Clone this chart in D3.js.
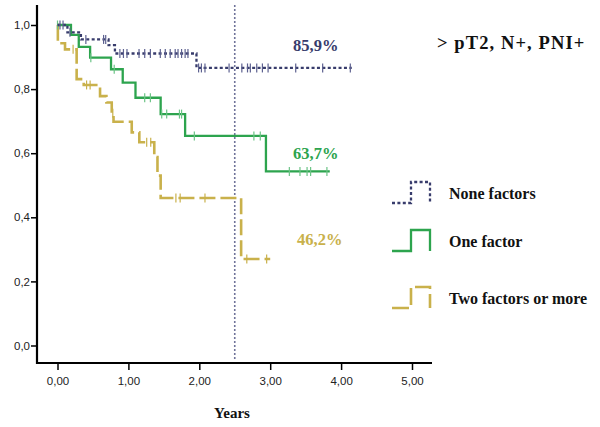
<!DOCTYPE html>
<html>
<head>
<meta charset="utf-8">
<script src="https://cdn.jsdelivr.net/npm/d3@7.9.0/dist/d3.min.js"></script>
<style>
  body { margin: 0; background: #fff; }
  svg { display: block; }
</style>
</head>
<body>
<div id="chart"></div>
<script>
// Kaplan-Meier curves (years, survival)
const noneTimes = [0, 0.14, 0.33, 0.72, 0.81, 1.96, 4.15];
const noneSurv  = [1, 0.977, 0.955, 0.937, 0.911, 0.866, 0.866];
const noneCensor = [0.035, 0.078, 0.176, 0.40, 0.65, 0.68, 0.88, 0.93, 0.98, 1.15, 1.23, 1.31,
  1.45, 1.52, 1.59, 1.66, 1.70, 1.75, 1.80, 1.84, 1.99, 2.03, 2.08, 2.42, 2.60, 2.68, 2.72,
  2.81, 2.89, 2.97, 3.36, 3.74, 4.13];

const oneTimes = [0, 0.19, 0.30, 0.46, 0.755, 0.92, 1.10, 1.455, 1.80, 2.94, 3.84];
const oneSurv  = [1, 0.969, 0.932, 0.898, 0.862, 0.820, 0.773, 0.722, 0.654, 0.543, 0.543];
const oneCensor = [0.0, 0.47, 0.80, 1.23, 1.31, 1.47, 1.54, 1.72, 1.75, 1.93, 2.77, 2.86,
  3.27, 3.42, 3.52, 3.57, 3.80];

const twoTimes = [0, 0.005, 0.106, 0.27, 0.37, 0.60, 0.69, 0.765, 0.79, 1.047, 1.154,
  1.365, 1.41, 1.455, 2.59, 3.0];
const twoSurv  = [1, 0.943, 0.924, 0.831, 0.813, 0.778, 0.758, 0.725, 0.698, 0.665, 0.634,
  0.588, 0.53, 0.46, 0.27, 0.27];
const twoCensor = [0.22, 0.41, 0.46, 0.78, 1.258, 1.315, 1.67, 1.73, 2.08, 2.67, 2.95];

const xTicks = [0, 1, 2, 3, 4, 5];
const yTicks = [0, 0.2, 0.4, 0.6, 0.8, 1.0];
const cutYear = 2.5;

const groupNames = ["None factors", "One factor", "Two factors or more"];
const groupLabels = ["85,9%", "63,7%", "46,2%"];
const title = "> pT2, N+, PNI+";
const xTitle = "Years";

const colors = ["#383c6c", "#2da44e", "#c9b14b"];
const tickColors = ["#5d6190", "#6cc486", "#c9b14b"];

const width = 600;
const height = 427;

const svg = d3.select("#chart")
  .append("svg")
  .attr("width", width)
  .attr("height", height);

const x = d3.scaleLinear().domain([0, 5]).range([57.5, 412]);
const y = d3.scaleLinear().domain([0, 1]).range([345.5, 25]);

const fmt = d => d.toFixed(1).replace(".", ",");

// axes
const xAxis = svg.append("g")
  .attr("transform", "translate(0,363)")
  .call(d3.axisBottom(x).tickValues(xTicks).tickSize(7)
    .tickFormat(d => d.toFixed(2).replace(".", ",")));
xAxis.select(".domain").remove();
xAxis.selectAll("line").attr("stroke", "#000").attr("stroke-width", 1.5);
xAxis.selectAll("text")
  .attr("font-family", "Liberation Sans, Arial, sans-serif")
  .attr("font-size", 11.5).attr("fill", "#222").attr("dy", "1.05em");

const yAxis = svg.append("g")
  .attr("transform", "translate(37,0)")
  .call(d3.axisLeft(y).tickValues(yTicks).tickSize(6).tickFormat(fmt));
yAxis.select(".domain").remove();
yAxis.selectAll("line").attr("stroke", "#000").attr("stroke-width", 1.5);
yAxis.selectAll("text")
  .attr("font-family", "Liberation Sans, Arial, sans-serif")
  .attr("font-size", 11.5).attr("fill", "#222").attr("x", -7);

svg.append("line")
  .attr("x1", 37).attr("x2", 37).attr("y1", 5).attr("y2", 364)
  .attr("stroke", "#000").attr("stroke-width", 2.2);
svg.append("line")
  .attr("x1", 36).attr("x2", 432).attr("y1", 363).attr("y2", 363)
  .attr("stroke", "#000").attr("stroke-width", 2.2);

// reference line at 2.5 years
svg.append("line")
  .attr("x1", x(cutYear)).attr("x2", x(cutYear))
  .attr("y1", 5).attr("y2", 360)
  .attr("stroke", "#6f7399").attr("stroke-width", 1.6)
  .attr("stroke-dasharray", "2,2");

const groups = [
  { times: noneTimes, surv: noneSurv, censor: noneCensor, dash: "3,2.4", w: 2.3 },
  { times: oneTimes, surv: oneSurv, censor: oneCensor, dash: null, w: 2.3 },
  { times: twoTimes, surv: twoSurv, censor: twoCensor, dash: "16,5", w: 2.6 }
];

const line = d3.line()
  .x(d => x(d[0]))
  .y(d => y(d[1]))
  .curve(d3.curveStepAfter);

// draw later groups first so the navy curve sits on top
[2, 1, 0].forEach(i => {
  const g = groups[i];
  const pts = g.times.map((t, k) => [t, g.surv[k]]);
  svg.append("path")
    .attr("d", line(pts))
    .attr("fill", "none")
    .attr("stroke", colors[i])
    .attr("stroke-width", g.w)
    .attr("stroke-dasharray", g.dash);

  const level = t => g.surv[Math.max(0, d3.bisectRight(g.times, t) - 1)];
  svg.append("g").selectAll("line")
    .data(g.censor)
    .join("line")
    .attr("x1", d => x(d)).attr("x2", d => x(d))
    .attr("y1", d => y(level(d)) - 4.5)
    .attr("y2", d => y(level(d)) + 4.5)
    .attr("stroke", tickColors[i])
    .attr("stroke-width", 1.2);
});

// percent labels
const labelPos = [[293, 51], [293, 159], [297, 245]];
svg.append("g").selectAll("text")
  .data(groupLabels)
  .join("text")
  .attr("x", (d, i) => labelPos[i][0])
  .attr("y", (d, i) => labelPos[i][1])
  .attr("font-family", "Liberation Serif, Times New Roman, serif")
  .attr("font-weight", "bold")
  .attr("font-size", 16.5)
  .attr("fill", (d, i) => colors[i])
  .text(d => d);

// title
svg.append("text")
  .attr("x", 437).attr("y", 49)
  .attr("font-family", "Liberation Serif, Times New Roman, serif")
  .attr("font-weight", "bold")
  .attr("font-size", 18.5)
  .attr("letter-spacing", 1.1)
  .attr("fill", "#111")
  .text(title);

// x title
svg.append("text")
  .attr("x", 232).attr("y", 418)
  .attr("text-anchor", "middle")
  .attr("font-family", "Liberation Serif, Times New Roman, serif")
  .attr("font-weight", "bold")
  .attr("font-size", 15)
  .attr("fill", "#111")
  .text(xTitle);

// legend
const legendY = [193, 241, 298];
const legend = svg.append("g");
groups.forEach((g, i) => {
  const cy = legendY[i];
  const shape = [[392, cy + 10], [411, cy + 10], [411, cy - 11], [430, cy - 11], [430, cy + 10]];
  legend.append("path")
    .attr("d", d3.line()(shape))
    .attr("fill", "none")
    .attr("stroke", colors[i])
    .attr("stroke-width", g.w)
    .attr("stroke-dasharray", i === 0 ? "3,2.4" : i === 2 ? "17,5" : null);
  legend.append("text")
    .attr("x", 449).attr("y", cy + 5.5)
    .attr("font-family", "Liberation Serif, Times New Roman, serif")
    .attr("font-weight", "bold")
    .attr("font-size", 16)
    .attr("fill", "#111")
    .text(groupNames[i]);
});
</script>
</body>
</html>
